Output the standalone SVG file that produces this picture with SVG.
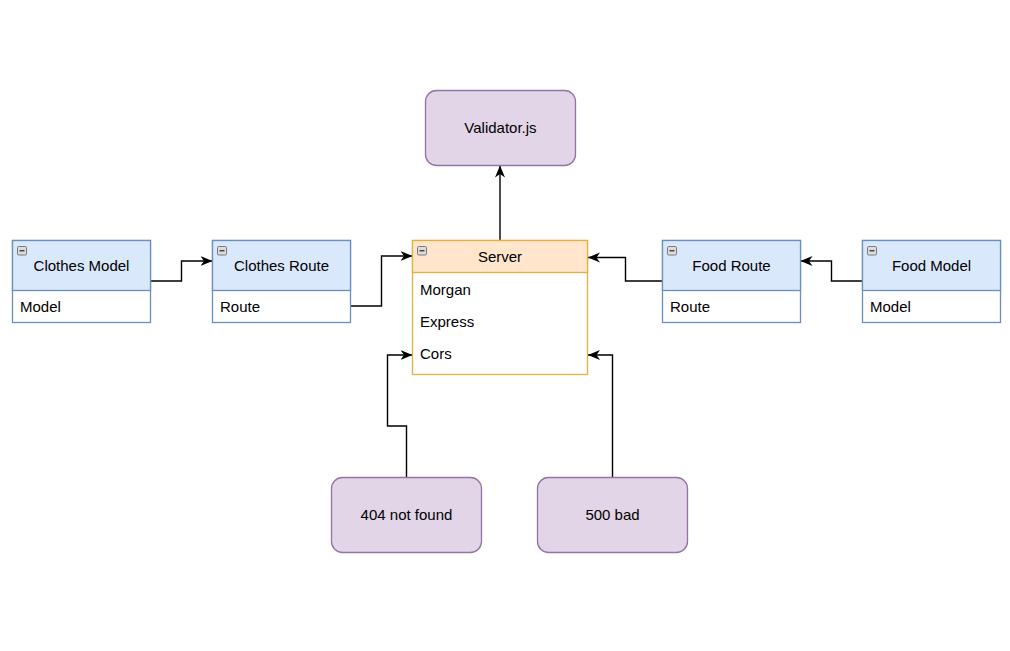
<svg xmlns="http://www.w3.org/2000/svg" width="1010" height="651" viewBox="0 0 1010 651">
<defs>
<style>
text{font-family:"Liberation Sans",Arial,Helvetica,sans-serif;font-size:15px;fill:#000}
.c{text-anchor:middle}
.blueH{fill:#dae8fc;stroke:#6c8ebf;stroke-width:1.3}
.blueB{fill:#ffffff;stroke:#6c8ebf;stroke-width:1.3}
.orgH{fill:#ffe6cc;stroke:#e0b040;stroke-width:1.3}
.orgB{fill:#ffffff;stroke:#e0b040;stroke-width:1.3}
.pur{fill:#e1d5e7;stroke:#9673a6;stroke-width:1.3}
.edge{fill:none;stroke:#000;stroke-width:1.4;marker-end:url(#arr)}
.ico{fill:#dcdcdc;stroke:#7a7a7a;stroke-width:1}
.icm{stroke:#333;stroke-width:1.3}
</style>
<marker id="arr" markerUnits="userSpaceOnUse" markerWidth="13" markerHeight="11" refX="12" refY="5" orient="auto" viewBox="0 0 13 11">
<path d="M0,0 L12,5 L0,10 L3.5,5 Z" fill="#000"/>
</marker>
<g id="minus">
<rect class="ico" x="0" y="0" width="9" height="8.5" rx="1.2"/>
<line class="icm" x1="2" y1="4.25" x2="7" y2="4.25"/>
</g>
</defs>
<rect width="1010" height="651" fill="#ffffff"/>

<g id="connectors">
<path class="edge" d="M150.5,281 H181.5 V261 H212.5"/>
<path class="edge" d="M350.5,306 H381.5 V256 H412.5"/>
<path class="edge" d="M500,240.5 V165.5"/>
<path class="edge" d="M662.5,281 H625.5 V257.5 H588"/>
<path class="edge" d="M862.5,281 H831.5 V261 H800.5"/>
<path class="edge" d="M406.5,477.5 V426 H387.5 V355 H412.5"/>
<path class="edge" d="M612.5,477.5 V355 H588"/>
</g>

<g id="clothes-model">
<rect class="blueB" x="12.5" y="240.5" width="138" height="82"/>
<rect class="blueH" x="12.5" y="240.5" width="138" height="50"/>
<use href="#minus" x="17.5" y="246.5"/>
<text class="c" x="81.5" y="271">Clothes Model</text>
<text x="20" y="312">Model</text>
</g>

<g id="clothes-route">
<rect class="blueB" x="212.5" y="240.5" width="138" height="82"/>
<rect class="blueH" x="212.5" y="240.5" width="138" height="50"/>
<use href="#minus" x="217.5" y="246.5"/>
<text class="c" x="281.5" y="271">Clothes Route</text>
<text x="220" y="312">Route</text>
</g>

<g id="server">
<rect class="orgB" x="412.5" y="240.5" width="175" height="134"/>
<rect class="orgH" x="412.5" y="240.5" width="175" height="32"/>
<use href="#minus" x="417.5" y="246.5"/>
<text class="c" x="500" y="262">Server</text>
<text x="420" y="295">Morgan</text>
<text x="420" y="327">Express</text>
<text x="420" y="359">Cors</text>
</g>

<g id="food-route">
<rect class="blueB" x="662.5" y="240.5" width="138" height="82"/>
<rect class="blueH" x="662.5" y="240.5" width="138" height="50"/>
<use href="#minus" x="667.5" y="246.5"/>
<text class="c" x="731.5" y="271">Food Route</text>
<text x="670" y="312">Route</text>
</g>

<g id="food-model">
<rect class="blueB" x="862.5" y="240.5" width="138" height="82"/>
<rect class="blueH" x="862.5" y="240.5" width="138" height="50"/>
<use href="#minus" x="867.5" y="246.5"/>
<text class="c" x="931.5" y="271">Food Model</text>
<text x="870" y="312">Model</text>
</g>

<g id="validator">
<rect class="pur" x="425.5" y="90.5" width="150" height="75" rx="11"/>
<text class="c" x="500.5" y="133">Validator.js</text>
</g>

<g id="not-found">
<rect class="pur" x="331.5" y="477.5" width="150" height="75" rx="11"/>
<text class="c" x="406.5" y="520">404 not found</text>
</g>

<g id="bad">
<rect class="pur" x="537.5" y="477.5" width="150" height="75" rx="11"/>
<text class="c" x="612.5" y="520">500 bad</text>
</g>
</svg>
